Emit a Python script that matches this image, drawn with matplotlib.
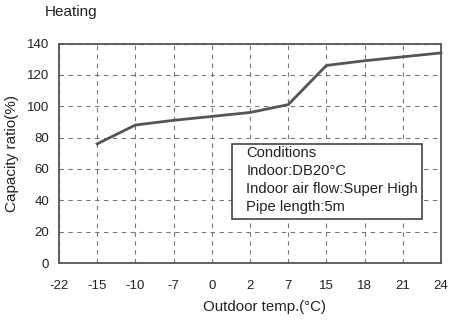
import numpy as np
import matplotlib.pyplot as plt
from matplotlib.patches import Rectangle

plt.rcParams['font.family'] = ['Liberation Sans', 'DejaVu Sans']

# categories on the x axis (equally spaced)
temp_labels = ['-22', '-15', '-10', '-7', '0', '2', '7', '15', '18', '21', '24']
# capacity curve, starts at -15
curve_temps = ['-15', '-10', '-7', '0', '2', '7', '15', '18', '21', '24']
capacity = [76, 88, 91, 93.5, 96, 101, 126, 129, 131.5, 134]
y_ticks = [0, 20, 40, 60, 80, 100, 120, 140]
cond_lines = ['Conditions', 'Indoor:DB20°C', 'Indoor air flow:Super High', 'Pipe length:5m']

fig = plt.figure(figsize=(4.49, 3.27), dpi=100)
ax = fig.add_axes([59 / 449, 1 - 263 / 327, 382 / 449, 219.5 / 327])

xpos = [temp_labels.index(t) for t in curve_temps]
ax.plot(xpos, capacity, color='#555555', lw=2, clip_on=False)

ax.set_xlim(0, len(temp_labels) - 1)
ax.set_ylim(0, 140)
ax.set_xticks(range(len(temp_labels)))
ax.set_xticklabels(temp_labels)
ax.set_yticks(y_ticks)
ax.tick_params(axis='both', length=0, labelsize=9.5, colors='#222222')
ax.tick_params(axis='x', pad=12)
ax.tick_params(axis='y', pad=7)
ax.grid(True, linestyle=(0, (4, 4)), color='#777777', lw=0.8)
for s in ax.spines.values():
    s.set_color('#555555')
    s.set_linewidth(1.3)

ax.set_xlabel('Outdoor temp.(°C)', fontsize=10.8, labelpad=7, color='#222222')
ax.xaxis.set_label_coords(0.537, -0.17)
ax.set_ylabel('Capacity ratio(%)', fontsize=11, labelpad=6, color='#222222')
fig.text(45 / 449, 1 - 12 / 327, 'Heating', fontsize=11, va='center', color='#222222')

# conditions box
ax.add_patch(Rectangle((0.453, 0.200), 0.497, 0.342, transform=ax.transAxes,
                       facecolor='white', edgecolor='#444444', lw=1.2, zorder=3))
for i, line in enumerate(cond_lines):
    ax.text(0.490, 0.502 - i * 0.0825, line, transform=ax.transAxes,
            fontsize=10.6, va='center', ha='left', color='#222222', zorder=4)

fig.savefig('out.png', dpi=100)
